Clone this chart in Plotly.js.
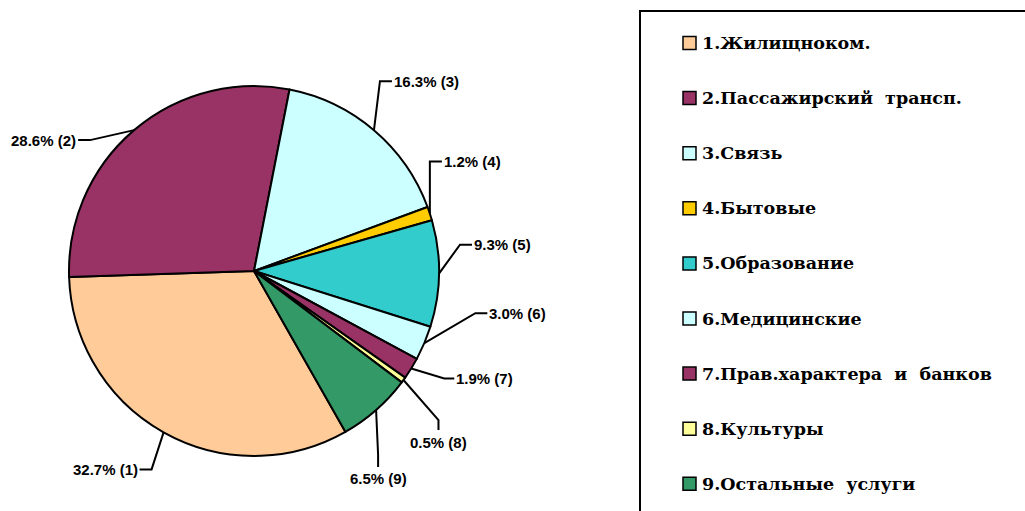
<!DOCTYPE html>
<html>
<head>
<meta charset="utf-8">
<script src="https://cdn.plot.ly/plotly-3.0.1.min.js"></script>
<style>html,body{margin:0;padding:0;background:#fff;}#chart{width:1025px;height:511px;}</style>
</head>
<body>
<div id="chart"></div>
<script>
// ---- data ----
const categories = ['1.Жилищноком.', '2.Пассажирский  трансп.', '3.Связь', '4.Бытовые', '5.Образование',
  '6.Медицинские', '7.Прав.характера  и  банков', '8.Культуры', '9.Остальные  услуги'];
const shares = [32.7, 28.6, 16.3, 1.2, 9.3, 3.0, 1.9, 0.5, 6.5];
const sliceColors = ['#FFCC99', '#993366', '#CCFFFF', '#FFCC00', '#33CCCC', '#CCFFFF', '#993366', '#FFFF99', '#339966'];

// ---- layout / style ----
const W = 1025, H = 511;
const CX = 254, CY = 271, R = 185, ROT = 150.4;
// leader line styling per label: elbow offset from slice edge, tail direction and length
const leaderStyle = [
  {ex: -12, ey: 37, tail: 'left', len: 12},
  {ex: -44, ey: 10, tail: 'left', len: 12},
  {ex: 6, ey: -49, tail: 'right', len: 12},
  {ex: 0, ey: -52, tail: 'right', len: 12},
  {ex: 21, ey: -29, tail: 'right', len: 12},
  {ex: 51, ey: -30, tail: 'right', len: 12},
  {ex: 33, ey: 10, tail: 'right', len: 10},
  {ex: 35, ey: 40, tail: 'down', len: 10},
  {ex: 2, ey: 45, tail: 'down', len: 12}
];
const LEG = {boxX: 640, boxY: 11, sqX: 683, sqSize: 13, textX: 701, y0: 43, step: 55.1};

const px = x => x / W;
const py = y => 1 - y / H;

const total = shares.reduce((a, b) => a + b, 0);
const shapes = [];
const annotations = [];

let cum = 0;
shares.forEach((v, i) => {
  const mid = (ROT + (cum + v / 2) / total * 360) * Math.PI / 180;
  cum += v;
  const exX = CX + R * Math.sin(mid), exY = CY - R * Math.cos(mid);
  const st = leaderStyle[i];
  const elX = exX + st.ex, elY = exY + st.ey;
  let tX = elX, tY = elY;
  if (st.tail === 'left') tX -= st.len;
  else if (st.tail === 'right') tX += st.len;
  else tY += st.len;
  shapes.push({
    type: 'path', xref: 'paper', yref: 'paper',
    path: `M${px(exX)},${py(exY)} L${px(elX)},${py(elY)} L${px(tX)},${py(tY)}`,
    line: {color: '#000', width: 2}
  });
  const ann = {
    xref: 'paper', yref: 'paper', showarrow: false, borderpad: 0,
    text: v.toFixed(1) + '% (' + (i + 1) + ')',
    font: {family: 'Liberation Sans, Arial, sans-serif', size: 15, weight: 'bold', color: '#000'}
  };
  if (st.tail === 'left') { ann.x = px(tX - 1); ann.y = py(tY); ann.xanchor = 'right'; ann.yanchor = 'middle'; }
  else if (st.tail === 'right') { ann.x = px(tX + 1); ann.y = py(tY); ann.xanchor = 'left'; ann.yanchor = 'middle'; }
  else { ann.x = px(tX); ann.y = py(tY + 12); ann.xanchor = 'center'; ann.yanchor = 'middle'; }
  annotations.push(ann);
});

// legend box
shapes.push({
  type: 'rect', xref: 'paper', yref: 'paper',
  x0: px(LEG.boxX), x1: px(W + 20), y0: py(LEG.boxY), y1: py(H + 20),
  line: {color: '#000', width: 2}, fillcolor: 'rgba(0,0,0,0)'
});
categories.forEach((c, i) => {
  const yc = LEG.y0 + i * LEG.step;
  shapes.push({
    type: 'rect', xref: 'paper', yref: 'paper',
    x0: px(LEG.sqX), x1: px(LEG.sqX + LEG.sqSize), y0: py(yc - LEG.sqSize / 2), y1: py(yc + LEG.sqSize / 2),
    line: {color: '#000', width: 1.5}, fillcolor: sliceColors[i]
  });
  annotations.push({
    xref: 'paper', yref: 'paper', showarrow: false, borderpad: 0,
    x: px(LEG.textX), y: py(yc), xanchor: 'left', yanchor: 'middle',
    text: c.replace(/ /g, '\u00a0'),
    font: {family: 'DejaVu Serif, serif', size: 17.5, weight: 'bold', color: '#000'}
  });
});

const trace = {
  type: 'pie',
  labels: categories,
  values: shares,
  sort: false,
  direction: 'clockwise',
  rotation: ROT,
  textinfo: 'none',
  hoverinfo: 'label+percent',
  marker: {colors: sliceColors, line: {color: '#000', width: 2}},
  domain: {x: [px(CX - R), px(CX + R)], y: [py(CY + R), py(CY - R)]},
  showlegend: false
};

const layout = {
  width: W, height: H,
  margin: {l: 0, r: 0, t: 0, b: 0},
  paper_bgcolor: '#fff',
  showlegend: false,
  shapes: shapes,
  annotations: annotations
};

Plotly.newPlot('chart', [trace], layout, {displayModeBar: false, staticPlot: true});
</script>
</body>
</html>
